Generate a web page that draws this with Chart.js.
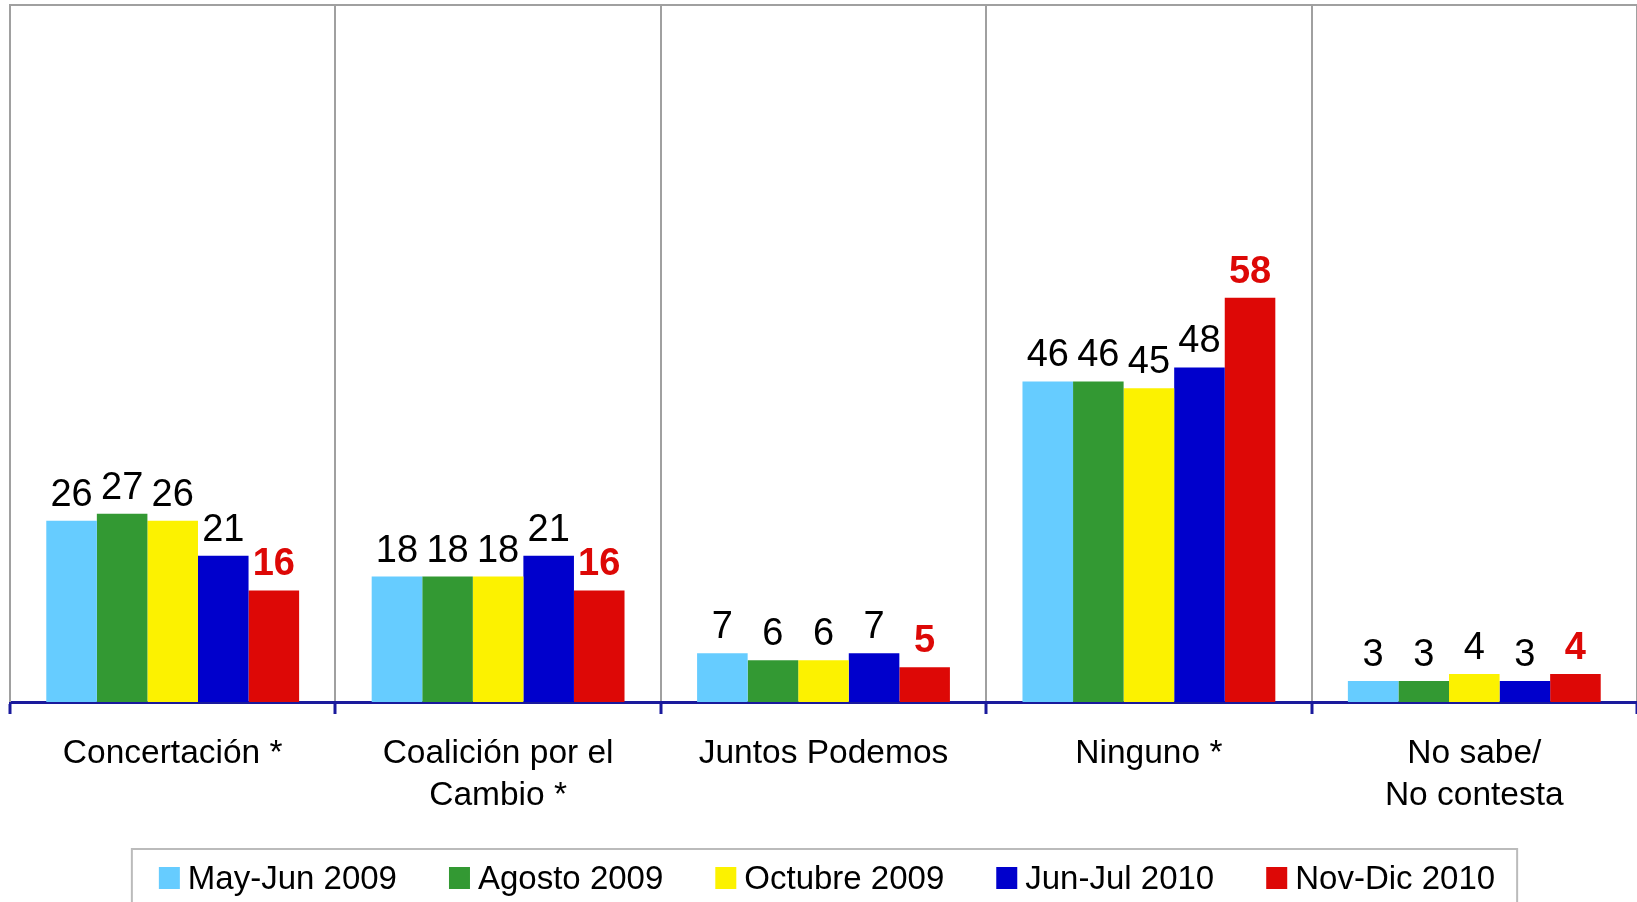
<!DOCTYPE html>
<html><head><meta charset="utf-8">
<script src="https://cdn.jsdelivr.net/npm/chart.js@4/dist/chart.umd.min.js"></script>
<style>html,body{margin:0;padding:0;background:#fff;} #wrap{width:1637px;height:902px;position:relative;}</style>
</head><body><div id="wrap"><canvas id="c"></canvas></div>
<script>
const categories = ['Concertación *', ['Coalición por el', 'Cambio *'], 'Juntos Podemos', 'Ninguno *', ['No sabe/', 'No contesta']];
const seriesNames = ['May-Jun 2009', 'Agosto 2009', 'Octubre 2009', 'Jun-Jul 2010', 'Nov-Dic 2010'];
const mayJun2009 = [26, 18, 7, 46, 3];
const agosto2009 = [27, 18, 6, 46, 3];
const octubre2009 = [26, 18, 6, 45, 4];
const junJul2010 = [21, 21, 7, 48, 3];
const novDic2010 = [16, 16, 5, 58, 4];
const seriesColors = ['#66CCFF', '#339933', '#FCF200', '#0000CC', '#DD0806'];

const FONT = '"Liberation Sans", Arial, sans-serif';
const allSeries = [mayJun2009, agosto2009, octubre2009, junJul2010, novDic2010];

const framePlugin = {
  id: 'frame',
  beforeDatasetsDraw(chart) {
    const { ctx, chartArea: a } = chart;
    ctx.save();
    ctx.strokeStyle = '#A0A0A0';
    ctx.lineWidth = 2;
    ctx.beginPath();
    ctx.moveTo(a.left, a.bottom);
    ctx.lineTo(a.left, a.top);
    ctx.lineTo(a.right + 5, a.top);
    ctx.stroke();
    ctx.restore();
  }
};

const labelPlugin = {
  id: 'valueLabels',
  afterDatasetsDraw(chart) {
    const ctx = chart.ctx;
    const n = chart.data.datasets.length;
    chart.data.datasets.forEach((ds, di) => {
      const meta = chart.getDatasetMeta(di);
      const last = di === n - 1;
      ctx.save();
      ctx.font = (last ? 'bold ' : '') + '38px ' + FONT;
      ctx.fillStyle = last ? '#DD0806' : '#000000';
      ctx.textAlign = 'center';
      ctx.textBaseline = 'alphabetic';
      meta.data.forEach((bar, i) => {
        ctx.fillText(String(ds.data[i]), bar.x, bar.y - 15);
      });
      ctx.restore();
    });
  }
};

const legendPlugin = {
  id: 'boxLegend',
  afterDraw(chart) {
    const ctx = chart.ctx;
    ctx.save();
    ctx.font = '33px ' + FONT;
    const sq = 21, sqH = 22, textGap = 8, itemGap = 52, padL = 27, padR = 22;
    const widths = chart.data.datasets.map(d => ctx.measureText(d.label).width);
    const total = widths.reduce((s, w) => s + sq + textGap + w, 0) + itemGap * (widths.length - 1);
    const center = 827;
    let x = center - total / 2;
    const boxL = x - padL, boxR = x + total + padR;
    ctx.strokeStyle = '#BBBBBB';
    ctx.lineWidth = 2;
    ctx.strokeRect(boxL, 849, boxR - boxL, 70);
    chart.data.datasets.forEach((d, i) => {
      ctx.fillStyle = d.backgroundColor;
      ctx.fillRect(x, 867, sq, sqH);
      ctx.fillStyle = '#000000';
      ctx.textAlign = 'left';
      ctx.textBaseline = 'alphabetic';
      ctx.fillText(d.label, x + sq + textGap, 889);
      x += sq + textGap + widths[i] + itemGap;
    });
    ctx.restore();
  }
};

new Chart(document.getElementById('c'), {
  type: 'bar',
  data: {
    labels: categories,
    datasets: seriesNames.map((name, i) => ({
      label: name,
      data: allSeries[i],
      backgroundColor: seriesColors[i],
      borderWidth: 0,
      categoryPercentage: 0.777,
      barPercentage: 1.0
    }))
  },
  options: {
    responsive: true,
    maintainAspectRatio: false,
    animation: false,
    layout: { padding: { left: 10, top: 5, right: 0, bottom: 70 } },
    plugins: { legend: { display: false }, tooltip: { enabled: false } },
    scales: {
      x: {
        offset: true,
        grid: { display: true, offset: true, color: '#A0A0A0', lineWidth: 2, drawTicks: true, tickLength: 12, tickColor: '#1A1A9C', tickWidth: 3 },
        border: { display: true, color: '#1A1A9C', width: 3 },
        ticks: { color: '#000000', font: { family: FONT, size: 33.5, lineHeight: 1.27 }, padding: 18, maxRotation: 0, autoSkip: false },
        afterFit(s) { s.height = 130; }
      },
      y: { display: false, min: 0, max: 100 }
    }
  },
  plugins: [framePlugin, labelPlugin, legendPlugin]
});
</script>
</body></html>
